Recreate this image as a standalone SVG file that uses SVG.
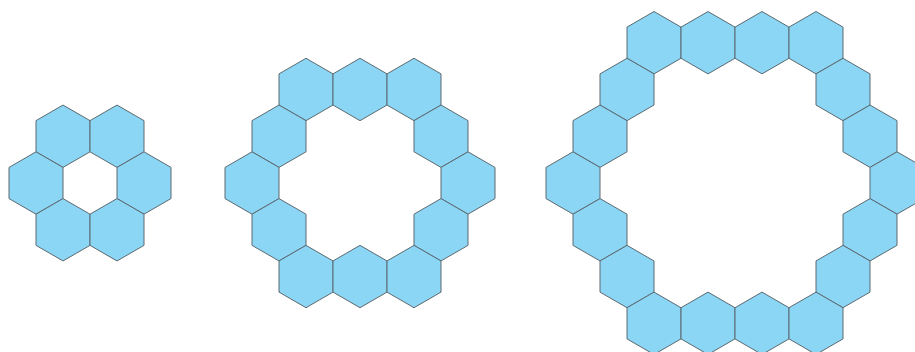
<svg xmlns="http://www.w3.org/2000/svg" xmlns:xlink="http://www.w3.org/1999/xlink" width="915" height="352" viewBox="0 0 915 352">
<style>
.hex{fill:#8bd6f5;stroke:#5c6970;stroke-width:1;stroke-linejoin:miter}
</style>
<defs>
<polygon id="h" class="hex" points="0,-31.18 27,-15.59 27,15.59 0,31.18 -27,15.59 -27,-15.59"/>
</defs>
<rect width="915" height="352" fill="#ffffff"/>
<g id="ring1">
<g id="r1-1"><use href="#h" x="63" y="136.23"/></g>
<g id="r1-2"><use href="#h" x="117" y="136.23"/></g>
<g id="r1-3"><use href="#h" x="36" y="183"/></g>
<g id="r1-4"><use href="#h" x="144" y="183"/></g>
<g id="r1-5"><use href="#h" x="63" y="229.77"/></g>
<g id="r1-6"><use href="#h" x="117" y="229.77"/></g>
</g>
<g id="ring2">
<g id="r2-1"><use href="#h" x="306" y="89.47"/></g>
<g id="r2-2"><use href="#h" x="360" y="89.47"/></g>
<g id="r2-3"><use href="#h" x="414" y="89.47"/></g>
<g id="r2-4"><use href="#h" x="279" y="136.23"/></g>
<g id="r2-5"><use href="#h" x="441" y="136.23"/></g>
<g id="r2-6"><use href="#h" x="252" y="183"/></g>
<g id="r2-7"><use href="#h" x="468" y="183"/></g>
<g id="r2-8"><use href="#h" x="279" y="229.77"/></g>
<g id="r2-9"><use href="#h" x="441" y="229.77"/></g>
<g id="r2-10"><use href="#h" x="306" y="276.53"/></g>
<g id="r2-11"><use href="#h" x="360" y="276.53"/></g>
<g id="r2-12"><use href="#h" x="414" y="276.53"/></g>
</g>
<g id="ring3">
<g id="r3-1"><use href="#h" x="654" y="42.7"/></g>
<g id="r3-2"><use href="#h" x="708" y="42.7"/></g>
<g id="r3-3"><use href="#h" x="762" y="42.7"/></g>
<g id="r3-4"><use href="#h" x="816" y="42.7"/></g>
<g id="r3-5"><use href="#h" x="627" y="89.47"/></g>
<g id="r3-6"><use href="#h" x="843" y="89.47"/></g>
<g id="r3-7"><use href="#h" x="600" y="136.23"/></g>
<g id="r3-8"><use href="#h" x="870" y="136.23"/></g>
<g id="r3-9"><use href="#h" x="573" y="183"/></g>
<g id="r3-10"><use href="#h" x="897" y="183"/></g>
<g id="r3-11"><use href="#h" x="600" y="229.77"/></g>
<g id="r3-12"><use href="#h" x="870" y="229.77"/></g>
<g id="r3-13"><use href="#h" x="627" y="276.53"/></g>
<g id="r3-14"><use href="#h" x="843" y="276.53"/></g>
<g id="r3-15"><use href="#h" x="654" y="323.3"/></g>
<g id="r3-16"><use href="#h" x="708" y="323.3"/></g>
<g id="r3-17"><use href="#h" x="762" y="323.3"/></g>
<g id="r3-18"><use href="#h" x="816" y="323.3"/></g>
</g>
<g id="connectors"/>
</svg>
